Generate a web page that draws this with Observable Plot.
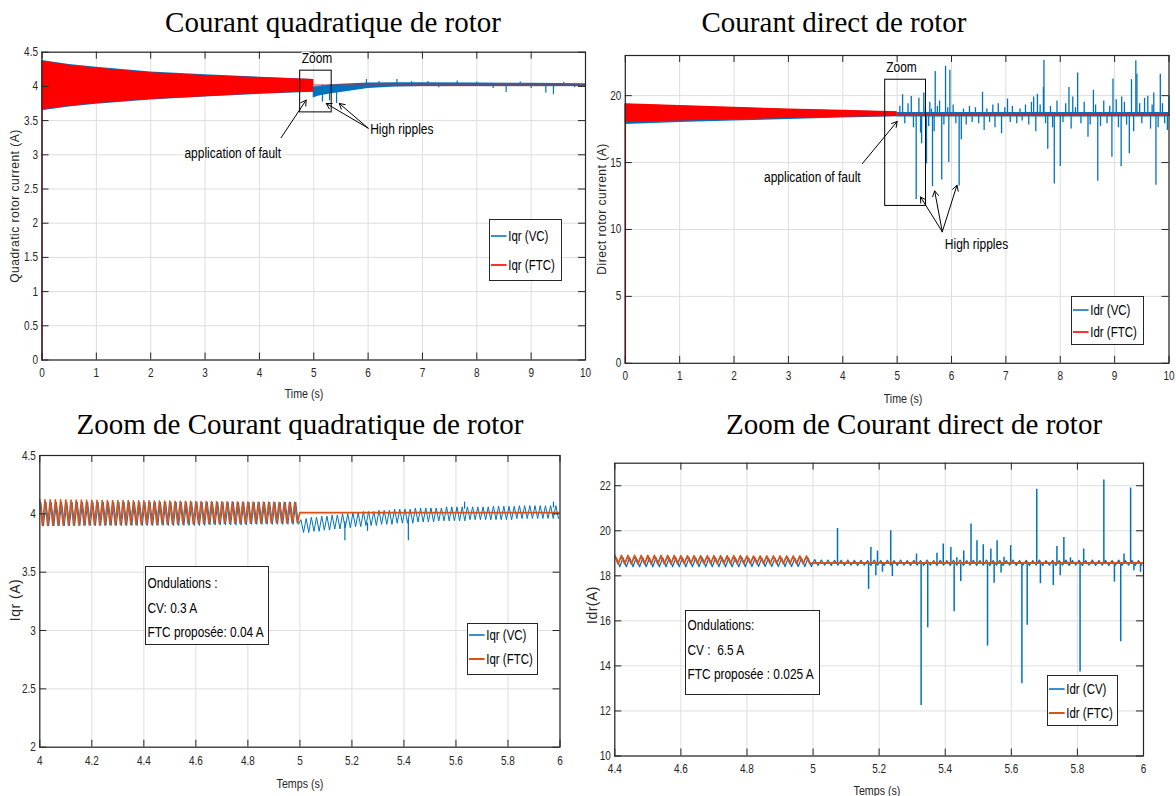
<!DOCTYPE html>
<html><head><meta charset="utf-8">
<script src="https://cdn.jsdelivr.net/npm/d3@7"></script>
<script src="https://cdn.jsdelivr.net/npm/@observablehq/plot@0.6"></script>
<style>
body{margin:0;background:#fff;width:1176px;height:796px;position:relative;overflow:hidden;font-family:"Liberation Sans",Arial,sans-serif;color:#262626}
.title{position:absolute;font-family:"Liberation Serif","Times New Roman",serif;font-size:29px;white-space:nowrap;transform:translate(-50%,-50%);color:#000}
.xl{position:absolute;font-size:13px;white-space:nowrap;transform:translate(-50%,-50%) scaleX(0.82);color:#262626}
.yl{position:absolute;font-size:12px;letter-spacing:0.5px;white-space:nowrap;transform:translate(-50%,-50%) rotate(-90deg);color:#262626}
.box{position:absolute;border:1px solid #262626;background:#fff;box-sizing:border-box}
.leg{position:absolute;font-size:14px;white-space:nowrap;color:#000;transform:scaleX(0.82);transform-origin:left center}
.leg i{display:inline-block;width:19px;height:0;border-top:2px solid;vertical-align:middle;margin-right:2px;position:relative;top:-1px}
.ond{position:absolute;font-size:14.5px;line-height:24.5px;white-space:nowrap;color:#000;padding:2px 0 0 3px;transform:scaleX(0.82);transform-origin:left top}
</style></head><body>
<script>
// ---------- tick labels ----------
const ticksT10 = [0,1,2,3,4,5,6,7,8,9,10];
const ticksIqr = [0,0.5,1,1.5,2,2.5,3,3.5,4,4.5];
const ticksIdr = [0,5,10,15,20];
const ticksZoomQ = [4,4.2,4.4,4.6,4.8,5,5.2,5.4,5.6,5.8,6];
const ticksZoomQy = [2,2.5,3,3.5,4,4.5];
const ticksZoomD = [4.4,4.6,4.8,5,5.2,5.4,5.6,5.8,6];
const ticksZoomDy = [10,12,14,16,18,20,22];

// ---------- Panel 1 : Iqr 0-10 s ----------
const startT = [0, 0];
const iqrStartV = [0, 4.37];
const iqrBandT = [0, 0.5, 1, 2, 3, 4, 5];
const iqrFtcUpper = [4.37, 4.31, 4.27, 4.20, 4.16, 4.13, 4.10];
const iqrFtcLower = [3.66, 3.71, 3.75, 3.81, 3.85, 3.89, 3.92];
const iqrVcUpper0 = [4.38, 4.32, 4.28, 4.21, 4.17, 4.135, 4.10];
const iqrVcLower0 = [3.645, 3.70, 3.74, 3.80, 3.845, 3.885, 3.915];
const iqrVcBandT = [4.99, 5.1, 5.3, 5.5, 6, 6.5, 7, 8, 9, 10];
const iqrVcUpper = [3.99, 4.00, 4.02, 4.03, 4.05, 4.055, 4.055, 4.05, 4.045, 4.04];
const iqrVcLower = [3.83, 3.86, 3.89, 3.91, 3.97, 3.99, 4.00, 4.00, 4.00, 4.00];
const iqrFtcFlatT = [5, 10];
const iqrFtcFlatV = [4.02, 4.02];
const iqrSpikeT = [5.16, 5.29, 5.42, 5.97, 6.2, 6.53, 6.8, 7.1, 7.3, 7.64, 8.0, 8.3, 8.54, 8.8, 9.0, 9.27, 9.41, 9.6, 9.8];
const iqrSpikeV = [3.77, 3.79, 3.75, 4.10, 4.07, 4.10, 4.07, 4.07, 3.98, 4.08, 4.065, 3.97, 3.91, 4.065, 3.97, 3.90, 3.88, 4.06, 3.98];

// ---------- Panel 2 : Idr 0-10 s ----------
const idrStartV = [0, 19.4];
const idrBandT = [0, 1, 2, 3, 4, 5];
const idrFtcUpper = [19.4, 19.27, 19.13, 19.0, 18.9, 18.8];
const idrFtcLower = [18.0, 18.1, 18.2, 18.3, 18.38, 18.45];
const idrVcUpper0 = [19.35, 19.22, 19.1, 18.97, 18.87, 18.78];
const idrVcLower0 = [17.85, 18.0, 18.1, 18.22, 18.33, 18.42];
const idrVcBandT = [5, 10];
const idrVcUpper = [18.75, 18.75];
const idrVcLower = [18.4, 18.4];
const idrFtcFlatT = [5, 10];
const idrFtcFlatV = [18.55, 18.55];
const idrSpikeT = [5.05,5.10,5.14,5.20,5.26,5.30,5.35,5.40,5.43,5.45,5.49,5.52,5.54,5.58,5.60,5.63,5.65,5.68,5.70,5.74,5.78,5.82,5.86,5.89,5.93,5.95,5.97,
  6.03,6.08,6.14,6.18,6.22,6.27,6.33,6.38,6.44,6.50,6.57,6.60,6.65,6.70,6.76,6.80,6.86,6.92,6.98,
  7.03,7.08,7.12,7.20,7.26,7.30,7.36,7.42,7.47,7.51,7.55,7.58,7.63,7.69,7.70,7.73,7.77,7.82,7.86,7.89,7.94,
  8.00,8.05,8.10,8.16,8.20,8.23,8.28,8.32,8.38,8.44,8.51,8.55,8.61,8.65,8.69,8.74,8.80,8.86,8.91,8.95,8.97,
  9.03,9.07,9.12,9.13,9.18,9.22,9.27,9.31,9.35,9.39,9.41,9.46,9.50,9.55,9.61,9.66,9.69,9.72,9.76,9.80,9.84,9.88,9.92,9.97,10.0];
const idrSpikeV = [19.2,20.07,17.9,19.4,19.93,17.6,12.24,19.8,17.2,16.4,20.2,19.1,14.9,17.7,19.5,19.0,13.2,17.3,21.8,19.2,19.6,13.7,17.8,22.2,19.1,15.0,21.9,
  19.3,17.9,13.25,16.7,19.0,17.8,19.2,18.0,19.1,17.9,20.25,17.4,19.0,18.0,19.3,17.6,19.4,17.15,19.1,
  19.75,18.0,19.2,17.9,19.0,18.1,19.3,17.8,19.5,19.9,17.3,20.1,19.3,20.6,22.65,17.9,16.0,19.2,17.6,13.4,19.6,
  14.7,18.0,19.4,20.6,17.5,19.9,19.1,21.7,17.9,19.5,16.9,17.8,20.4,19.3,13.6,17.7,19.6,17.9,19.2,15.4,21.25,
  19.7,17.6,14.7,19.9,19.5,17.8,15.66,21.2,17.3,22.6,21.6,19.4,17.9,19.8,19.95,17.5,19.3,20.2,13.3,17.6,21.6,19.4,17.9,17.4,20.0];

// annotations (data coordinates)
const annQText = ["Zoom", "application of fault", "High ripples"];
const annQTextT = [5.06, 3.51, 6.62];
const annQTextV = [4.41, 3.03, 3.37];
const annQBoxT = [4.75, 5.33];
const annQBoxV = [3.62, 4.23];
const annQArrowT1 = [4.40, 6.0, 6.0];
const annQArrowV1 = [3.25, 3.39, 3.39];
const annQArrowT2 = [4.86, 5.23, 5.47];
const annQArrowV2 = [3.80, 3.75, 3.75];

const annDText = ["Zoom", "application of fault", "High ripples"];
const annDTextT = [5.08, 3.44, 6.46];
const annDTextV = [22.16, 13.9, 8.91];
const annDBoxT = [4.78, 5.53];
const annDBoxV = [11.76, 21.19];
const annDArrowT1 = [4.36, 5.83, 5.83, 5.83];
const annDArrowV1 = [14.92, 9.83, 9.83, 9.83];
const annDArrowT2 = [5.0, 5.43, 5.69, 6.10];
const annDArrowV2 = [18.07, 12.43, 12.88, 13.3];

// ---------- Panel 3 : Iqr zoom 4-6 s (half-period 0.01 s) ----------
const iqrZFtcPeaks = [4.12,4.12,4.12,4.12,4.12,4.12,4.118,4.118,4.118,4.116,
  4.116,4.116,4.115,4.115,4.114,4.114,4.113,4.113,4.112,4.112,
  4.111,4.111,4.11,4.11,4.109,4.109,4.108,4.108,4.107,4.107,
  4.106,4.106,4.105,4.105,4.104,4.104,4.103,4.103,4.102,4.102,
  4.101,4.101,4.10,4.10,4.10,4.10,4.099,4.099,4.098,4.098];
const iqrZFtcTroughs = [3.90,3.90,3.90,3.90,3.901,3.902,3.902,3.903,3.903,3.904,
  3.904,3.905,3.905,3.906,3.906,3.907,3.907,3.908,3.908,3.909,
  3.909,3.91,3.91,3.911,3.911,3.912,3.912,3.913,3.913,3.914,
  3.914,3.915,3.915,3.916,3.916,3.917,3.917,3.918,3.918,3.919,
  3.919,3.92,3.92,3.921,3.921,3.922,3.922,3.923,3.923,3.924];
const iqrZFtcFlatT = [5, 6];
const iqrZFtcFlatV = [4.01, 4.01];
const iqrZVcPeaks = [4.10,4.10,4.10,4.10,4.10,4.10,4.10,4.10,4.10,4.10,
  4.10,4.10,4.10,4.10,4.10,4.10,4.10,4.10,4.10,4.10,
  4.10,4.10,4.10,4.10,4.10,4.10,4.10,4.10,4.10,4.10,
  4.10,4.10,4.10,4.10,4.10,4.10,4.10,4.10,4.10,4.10,
  4.10,4.10,4.10,4.10,4.10,4.10,4.10,4.10,4.10,4.10,
  3.95,3.96,3.97,3.97,3.98,3.98,3.99,3.99,4.00,4.00,
  4.01,4.01,4.02,4.02,4.02,4.03,4.03,4.03,4.04,4.04,
  4.04,4.04,4.05,4.05,4.05,4.05,4.05,4.05,4.06,4.06,
  4.06,4.06,4.06,4.06,4.06,4.06,4.06,4.065,4.065,4.065,
  4.065,4.065,4.07,4.07,4.07,4.07,4.07,4.07,4.07,4.07];
const iqrZVcTroughs = [3.895,3.895,3.895,3.896,3.897,3.898,3.899,3.90,3.90,3.90,
  3.90,3.90,3.90,3.90,3.90,3.90,3.90,3.90,3.90,3.90,
  3.90,3.90,3.90,3.90,3.90,3.90,3.90,3.90,3.90,3.90,
  3.90,3.90,3.905,3.905,3.905,3.905,3.905,3.905,3.905,3.905,
  3.91,3.91,3.91,3.91,3.91,3.91,3.91,3.91,3.91,3.91,
  3.84,3.84,3.85,3.85,3.86,3.86,3.87,3.87,3.88,3.88,
  3.89,3.89,3.90,3.90,3.90,3.91,3.91,3.91,3.92,3.92,
  3.92,3.92,3.93,3.93,3.93,3.93,3.94,3.94,3.94,3.94,
  3.94,3.94,3.95,3.95,3.95,3.95,3.95,3.95,3.95,3.95,
  3.95,3.96,3.96,3.96,3.96,3.96,3.96,3.96,3.96,3.96];
const iqrZSpikeT = [5.173, 5.26, 5.417, 5.633, 5.975];
const iqrZSpikeV = [3.77, 3.85, 3.77, 4.10, 4.10];
const iqrZSpikeBase = [3.93, 3.92, 3.95, 4.04, 4.05];

// ---------- Panel 4 : Idr zoom 4.4-6 s (half-period 0.01 s) ----------
const idrZFtcPeaks = [18.9,18.9,18.9,18.9,18.9,18.9,18.9,18.9,18.9,18.9,
  18.89,18.89,18.89,18.89,18.89,18.89,18.89,18.89,18.89,18.89,
  18.88,18.88,18.88,18.88,18.88,18.88,18.88,18.88,18.88,18.88];
const idrZFtcTroughs = [18.53,18.53,18.53,18.53,18.53,18.53,18.53,18.53,18.53,18.53,
  18.54,18.54,18.54,18.54,18.54,18.54,18.54,18.54,18.54,18.54,
  18.54,18.54,18.54,18.54,18.54,18.54,18.54,18.54,18.54,18.54];
const idrZFtcFlatT = [5, 6];
const idrZFtcFlatV = [18.57, 18.57];
const idrZVcPeaks = [18.8,18.8,18.8,18.8,18.8,18.8,18.8,18.8,18.8,18.8,
  18.8,18.8,18.8,18.8,18.8,18.8,18.8,18.8,18.8,18.8,
  18.79,18.79,18.79,18.79,18.79,18.79,18.79,18.79,18.79,18.79,
  18.72,18.7,18.7,18.69,18.69,18.7,18.69,18.69,18.68,18.7,
  18.68,18.69,18.68,18.7,18.68,18.69,18.68,18.7,18.68,18.69,
  18.68,18.69,18.7,18.68,18.69,18.68,18.7,18.68,18.69,18.68,
  18.7,18.68,18.69,18.68,18.7,18.68,18.69,18.68,18.7,18.68,
  18.69,18.68,18.7,18.68,18.69,18.68,18.7,18.68,18.69,18.68];
const idrZVcTroughs = [18.4,18.4,18.4,18.4,18.4,18.4,18.4,18.4,18.4,18.4,
  18.4,18.4,18.4,18.4,18.4,18.4,18.4,18.4,18.4,18.4,
  18.41,18.41,18.41,18.41,18.41,18.41,18.41,18.41,18.41,18.41,
  18.46,18.47,18.46,18.47,18.46,18.47,18.46,18.47,18.46,18.47,
  18.46,18.47,18.46,18.47,18.46,18.47,18.46,18.47,18.46,18.47,
  18.46,18.47,18.46,18.47,18.46,18.47,18.46,18.47,18.46,18.47,
  18.46,18.47,18.46,18.47,18.46,18.47,18.46,18.47,18.46,18.47,
  18.46,18.47,18.46,18.47,18.46,18.47,18.46,18.47,18.46,18.47];
const idrZSpikeT = [5.074,5.168,5.175,5.19,5.195,5.21,5.235,5.24,5.313,5.327,5.347,5.375,5.394,5.417,5.427,5.435,5.447,5.456,5.478,5.496,5.515,5.528,5.538,5.548,5.557,5.569,5.578,5.598,5.632,5.648,5.677,5.688,5.727,5.738,5.748,5.759,5.779,5.808,5.819,5.88,5.912,5.931,5.941,5.961,5.971,5.991];
const idrZSpikeV = [20.1,17.4,19.26,18.0,19.1,18.16,20.0,17.97,18.97,12.24,15.69,19.0,19.41,19.26,16.4,18.8,17.75,19.1,20.3,19.56,19.38,14.88,19.19,17.67,19.56,18.13,18.82,19.34,13.21,15.8,21.84,17.65,17.57,19.3,18.0,19.7,18.8,13.73,19.19,22.25,17.72,15.07,18.97,21.9,18.23,18.16];

// ---------- colours ----------
const BLUE = "#0072BD", RED = "#FF0000", ORANGE = "#D95319", INK = "#262626", GRID = "#dedede";

// ---------- helpers ----------
const rows = (cols) => cols[Object.keys(cols)[0]].map((_, i) => Object.fromEntries(Object.entries(cols).map(([k, a]) => [k, a[i]])));
function zig(t0, dt, peaks, troughs) {
  const out = [];
  peaks.forEach((p, i) => { out.push({t: t0 + 2 * i * dt, v: p}); out.push({t: t0 + (2 * i + 1) * dt, v: troughs[i]}); });
  return out;
}
const FONT = '"Liberation Sans",Arial,sans-serif';
const fmt = d => String(d);

// narrow the SVG texts (condensed look) around each text's own anchor
function condense(svg, k) {
  svg.querySelectorAll("text").forEach(t => {
    const tr = t.getAttribute("transform");
    if (tr) t.setAttribute("transform", tr + ` scale(${k},1)`);
    else {
      const x = t.getAttribute("x") || 0, y = t.getAttribute("y") || 0;
      t.removeAttribute("x"); t.removeAttribute("y");
      t.setAttribute("transform", `translate(${x},${y}) scale(${k},1)`);
    }
  });
}

function panel(cfg) {
  const {left, top, width, height, ml, mr, mt, mb, xDomain, yDomain, xTicks, yTicks, marks, overlay = [], xPad = 8, yPad = 4} = cfg;
  const iw = width - ml - mr, ih = height - mt - mb;
  const svg = Plot.plot({
    width, height, marginLeft: ml, marginRight: mr, marginTop: mt, marginBottom: mb,
    x: {domain: xDomain}, y: {domain: yDomain},
    style: {fontFamily: FONT, fontSize: "12px", color: INK, background: "transparent", overflow: "visible"},
    marks: [
      Plot.gridX(xTicks, {stroke: GRID, strokeOpacity: 1}),
      Plot.gridY(yTicks, {stroke: GRID, strokeOpacity: 1}),
      ...marks,
      Plot.ruleX(xTicks, {x: d => d, insetTop: ih - 7, stroke: INK}),
      Plot.ruleX(xTicks, {x: d => d, insetBottom: ih - 7, stroke: INK}),
      Plot.ruleY(yTicks, {y: d => d, insetRight: iw - 7, stroke: INK}),
      Plot.ruleY(yTicks, {y: d => d, insetLeft: iw - 7, stroke: INK}),
      Plot.frame({stroke: INK, strokeWidth: 1.2}),
      Plot.axisX(xTicks, {tickSize: 0, tickPadding: xPad, label: null, fontSize: 12.5, tickFormat: fmt}),
      Plot.axisY(yTicks, {tickSize: 0, tickPadding: yPad, label: null, fontSize: 12.5, tickFormat: fmt}),
      ...overlay
    ]
  });
  condense(svg, 0.8);
  svg.style.position = "absolute";
  svg.style.left = left + "px";
  svg.style.top = top + "px";
  document.body.appendChild(svg);
}

// ---------- Panel 1 ----------
{
  const band = rows({t: iqrBandT, hi: iqrFtcUpper, lo: iqrFtcLower, vhi: iqrVcUpper0, vlo: iqrVcLower0});
  const vcBand = rows({t: iqrVcBandT, hi: iqrVcUpper, lo: iqrVcLower});
  const spikes = rows({t: iqrSpikeT, v: iqrSpikeV});
  const txt = rows({s: annQText, t: annQTextT, v: annQTextV});
  const arr = rows({t1: annQArrowT1, v1: annQArrowV1, t2: annQArrowT2, v2: annQArrowV2});
  panel({left: 0, top: 40, width: 600, height: 345, ml: 41.5, mr: 15, mt: 11.7, mb: 25.5,
    xDomain: [0, 10], yDomain: [0, 4.5], xTicks: ticksT10, yTicks: ticksIqr,
    marks: [
      Plot.areaY(band, {x: "t", y1: "vlo", y2: "vhi", fill: BLUE}),
      Plot.areaY(vcBand, {x: "t", y1: "lo", y2: "hi", fill: BLUE}),
      Plot.ruleX(spikes, {x: "t", y1: 4.02, y2: "v", stroke: BLUE, strokeWidth: 1.2}),
      Plot.lineY(startT.map((t, i) => ({t, v: iqrStartV[i]})), {x: "t", y: "v", stroke: "#b03050", strokeWidth: 1.5}),
      Plot.areaY(band, {x: "t", y1: "lo", y2: "hi", fill: RED}),
      Plot.lineY(iqrFtcFlatT.map((t, i) => ({t, v: iqrFtcFlatV[i]})), {x: "t", y: "v", stroke: "#c8283c", strokeWidth: 1}),
      Plot.rect([{}], {x1: annQBoxT[0], x2: annQBoxT[1], y1: annQBoxV[0], y2: annQBoxV[1], fill: "none", stroke: "#000", strokeWidth: 1}),
      Plot.arrow(arr, {x1: "t1", y1: "v1", x2: "t2", y2: "v2", stroke: "#000", strokeWidth: 1, headLength: 9})
    ],
    overlay: [
      Plot.text(txt, {x: "t", y: "v", text: "s", fill: "#000", stroke: "#fff", strokeWidth: 2.5, fontSize: 15, fontFamily: FONT})
    ]});
}

// ---------- Panel 2 ----------
{
  const band = rows({t: idrBandT, hi: idrFtcUpper, lo: idrFtcLower, vhi: idrVcUpper0, vlo: idrVcLower0});
  const vcBand = rows({t: idrVcBandT, hi: idrVcUpper, lo: idrVcLower});
  const spikes = rows({t: idrSpikeT, v: idrSpikeV});
  const txt = rows({s: annDText, t: annDTextT, v: annDTextV});
  const arr = rows({t1: annDArrowT1, v1: annDArrowV1, t2: annDArrowT2, v2: annDArrowV2});
  panel({left: 590, top: 40, width: 586, height: 345, ml: 34.8, mr: 7.5, mt: 15, mb: 22.2,
    xDomain: [0, 10], yDomain: [0, 23], xTicks: ticksT10, yTicks: ticksIdr,
    marks: [
      Plot.areaY(band, {x: "t", y1: "vlo", y2: "vhi", fill: BLUE}),
      Plot.areaY(vcBand, {x: "t", y1: "lo", y2: "hi", fill: BLUE}),
      Plot.ruleX(spikes, {x: "t", y1: 18.55, y2: "v", stroke: BLUE, strokeWidth: 1.3}),
      Plot.lineY(startT.map((t, i) => ({t, v: idrStartV[i]})), {x: "t", y: "v", stroke: "#c02030", strokeWidth: 1.5}),
      Plot.areaY(band, {x: "t", y1: "lo", y2: "hi", fill: RED}),
      Plot.lineY(idrFtcFlatT.map((t, i) => ({t, v: idrFtcFlatV[i]})), {x: "t", y: "v", stroke: "#b8283c", strokeWidth: 2}),
      Plot.rect([{}], {x1: annDBoxT[0], x2: annDBoxT[1], y1: annDBoxV[0], y2: annDBoxV[1], fill: "none", stroke: "#000", strokeWidth: 1}),
      Plot.arrow(arr, {x1: "t1", y1: "v1", x2: "t2", y2: "v2", stroke: "#000", strokeWidth: 1, headLength: 9})
    ],
    overlay: [
      Plot.text(txt, {x: "t", y: "v", text: "s", fill: "#000", stroke: "#fff", strokeWidth: 2.5, fontSize: 15, fontFamily: FONT})
    ]});
}

// ---------- Panel 3 ----------
{
  const ftc = zig(4, 0.01, iqrZFtcPeaks, iqrZFtcTroughs).concat(iqrZFtcFlatT.map((t, i) => ({t, v: iqrZFtcFlatV[i]})));
  const vc = zig(4.004, 0.01, iqrZVcPeaks, iqrZVcTroughs);
  const spikes = rows({t: iqrZSpikeT, v: iqrZSpikeV, b: iqrZSpikeBase});
  panel({left: 0, top: 440, width: 575, height: 340, ml: 39.3, mr: 15.5, mt: 15, mb: 33.3, xPad: 9,
    xDomain: [4, 6], yDomain: [2, 4.5], xTicks: ticksZoomQ, yTicks: ticksZoomQy,
    marks: [
      Plot.lineY(vc, {x: "t", y: "v", stroke: BLUE, strokeWidth: 1, clip: true}),
      Plot.ruleX(spikes, {x: "t", y1: "b", y2: "v", stroke: BLUE, strokeWidth: 1.2}),
      Plot.lineY(ftc, {x: "t", y: "v", stroke: ORANGE, strokeWidth: 1.6, clip: true})
    ]});
}

// ---------- Panel 4 ----------
{
  const ftc = zig(4.4, 0.01, idrZFtcPeaks, idrZFtcTroughs).concat(idrZFtcFlatT.map((t, i) => ({t, v: idrZFtcFlatV[i]})));
  const vc = zig(4.405, 0.01, idrZVcPeaks, idrZVcTroughs);
  const spikes = rows({t: idrZSpikeT, v: idrZSpikeV});
  panel({left: 580, top: 440, width: 596, height: 340, ml: 34.3, mr: 33, mt: 22.7, mb: 24.5,
    xDomain: [4.4, 6], yDomain: [10, 23], xTicks: ticksZoomD, yTicks: ticksZoomDy,
    marks: [
      Plot.lineY(vc, {x: "t", y: "v", stroke: BLUE, strokeWidth: 1.2, clip: true}),
      Plot.ruleX(spikes, {x: "t", y1: 18.57, y2: "v", stroke: BLUE, strokeWidth: 1.5}),
      Plot.lineY(ftc, {x: "t", y: "v", stroke: ORANGE, strokeWidth: 1.8, clip: true})
    ]});
}

// ---------- HTML text: titles, axis labels, legends, notes ----------
function add(cls, text, x, y, style = "") {
  const d = document.createElement("div");
  d.className = cls; d.innerHTML = text;
  d.style.cssText += `left:${x}px;top:${y}px;` + style;
  document.body.appendChild(d);
  return d;
}
add("title", "Courant quadratique de rotor", 333, 22);
add("title", "Courant direct de rotor", 834, 22);
add("title", "Zoom de Courant quadratique de rotor", 300, 424);
add("title", "Zoom de Courant direct de rotor", 914, 424);

add("xl", "Time (s)", 304, 393);
add("xl", "Time (s)", 903, 398);
add("xl", "Temps (s)", 300, 783);
add("xl", "Temps (s)", 877, 790);
add("yl", "Quadratic rotor current (A)", 15, 206);
add("yl", "Direct rotor current (A)", 602, 209);
add("yl", "Iqr (A)", 15, 600, "font-size:14px");
add("yl", "Idr(A)", 592, 605, "font-size:14px");

function legend(x, y, w, h, items) {
  add("box", "", x, y, `width:${w}px;height:${h}px;`);
  items.forEach(([txt, col, yy]) => add("leg", `<i style="border-color:${col}"></i>${txt}`, x + 2, yy - 9));
}
legend(489, 219, 73, 62, [["Iqr (VC)", "#3d8fd0", 237], ["Iqr (FTC)", "#ff3030", 266]]);
legend(1071, 296, 73, 49, [["Idr (VC)", "#3d8fd0", 311], ["Idr (FTC)", "#ff3030", 333]]);
legend(467, 623, 71, 52, [["Iqr (VC)", "#3d8fd0", 636], ["Iqr (FTC)", ORANGE, 660]]);
legend(1047, 675, 71, 51, [["Idr (CV)", "#3d8fd0", 690], ["Idr (FTC)", ORANGE, 714]]);

add("box", "", 145, 566, "width:124px;height:79px;");
add("ond", "Ondulations :<br>CV: 0.3 A<br>FTC proposée: 0.04 A", 145, 569);
add("box", "", 685, 610, "width:135px;height:85px;border-width:1.5px;");
add("ond", "Ondulations:<br>CV :&nbsp; 6.5 A<br>FTC proposée : 0.025 A", 685, 611);
</script>
</body></html>
